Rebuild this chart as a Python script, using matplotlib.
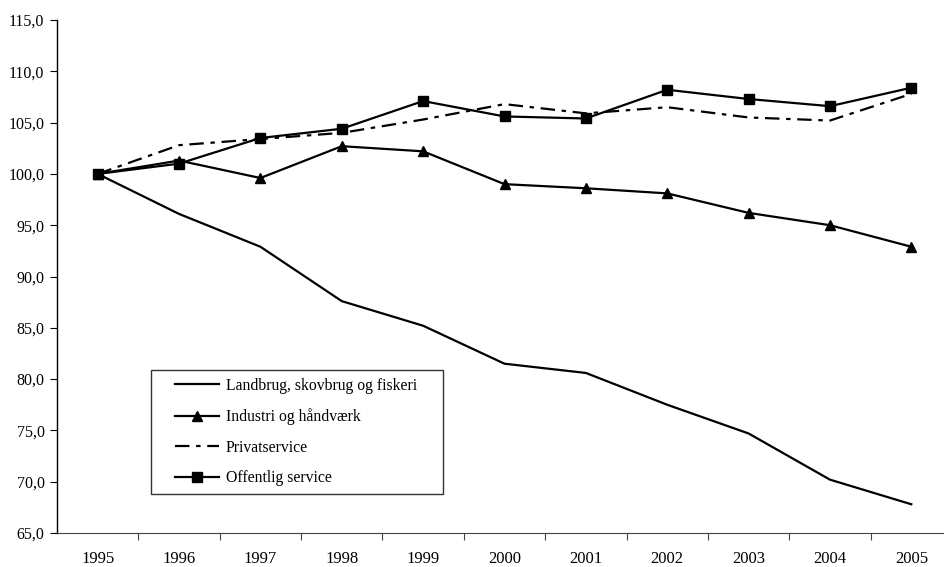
import numpy as np
import matplotlib.pyplot as plt
from matplotlib.legend_handler import HandlerLine2D

plt.rcParams['font.family'] = ['Liberation Serif', 'DejaVu Serif']

# data (index 1995 = 100)
years = ['1995', '1996', '1997', '1998', '1999', '2000', '2001', '2002', '2003', '2004', '2005']
landbrug = [100.0, 96.1, 92.9, 87.6, 85.2, 81.5, 80.6, 77.5, 74.7, 70.2, 67.8]
industri = [100.0, 101.3, 99.6, 102.7, 102.2, 99.0, 98.6, 98.1, 96.2, 95.0, 92.9]
privat = [100.0, 102.8, 103.4, 104.0, 105.3, 106.8, 105.9, 106.5, 105.5, 105.2, 107.8]
offentlig = [100.0, 101.0, 103.5, 104.4, 107.1, 105.6, 105.4, 108.2, 107.3, 106.6, 108.4]

labels = ['Landbrug, skovbrug og fiskeri', 'Industri og håndværk',
          'Privatservice', 'Offentlig service']

fig = plt.figure(figsize=(9.44, 5.67), dpi=100)
# axes run a little past the right edge, like the cropped original
ax = fig.add_axes([57 / 944, 34 / 567, 895 / 944, 513 / 567])

x = np.arange(len(years))
lw = 1.6
ax.plot(x, landbrug, color='black', lw=lw, label=labels[0])
ax.plot(x, industri, color='black', lw=lw, marker='^', ms=7.5, label=labels[1])
ax.plot(x, privat, color='black', lw=lw, dashes=(6.5, 3, 2, 3), label=labels[2])
ax.plot(x, offentlig, color='black', lw=lw, marker='s', ms=7, label=labels[3])

ax.set_xlim(-0.5, len(years) - 0.5)
ax.set_ylim(65, 115)
yt = np.arange(65, 115.1, 5)
ax.set_yticks(yt)
ax.set_yticklabels([f'{v:.1f}'.replace('.', ',') for v in yt])

# category axis: ticks between categories, labels centred
ax.set_xticks(np.arange(0.5, len(years) - 0.5, 1))
ax.set_xticklabels([])
ax.set_xticks(x, minor=True)
ax.set_xticklabels(years, minor=True)
ax.tick_params(axis='x', which='minor', length=0, pad=13, labelsize=12)
ax.tick_params(axis='x', which='major', direction='out', length=5, color='#444444')
ax.tick_params(axis='y', direction='out', length=5, labelsize=11.5, pad=4)

for s in ['top', 'right']:
    ax.spines[s].set_visible(False)
ax.spines['bottom'].set_color('#444444')
ax.spines['left'].set_linewidth(1)

# legend box: x 151..443, y 371..494 px in the original
hmap = {h: HandlerLine2D(xpad=1.05) for h in ax.get_lines()}
leg = ax.legend(loc='lower left', bbox_to_anchor=(151 / 944, 73 / 567, 292 / 944, 123 / 567),
                bbox_transform=fig.transFigure, borderaxespad=0, mode='expand',
                fontsize=11.3, frameon=True, fancybox=False, handlelength=3.85,
                labelspacing=0.92, borderpad=0.5, handletextpad=0.4,
                handler_map=hmap)
leg.get_frame().set_edgecolor('black')
leg.get_frame().set_linewidth(1)

fig.savefig('out.png', dpi=100)
